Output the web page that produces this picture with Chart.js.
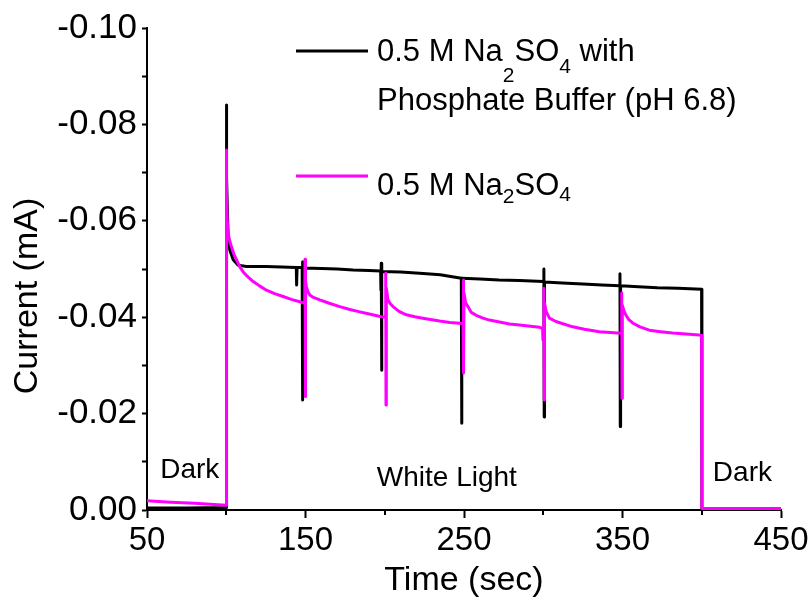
<!DOCTYPE html>
<html>
<head>
<meta charset="utf-8">
<script src="https://cdn.jsdelivr.net/npm/chart.js@4.4.0/dist/chart.umd.min.js"></script>
<style>
  html, body { margin: 0; padding: 0; background: #ffffff; }
  #wrap { width: 812px; height: 599px; }
</style>
</head>
<body>
<div id="wrap"><canvas id="c" width="812" height="599"></canvas></div>
<script>
const FONT = "'Liberation Sans', Arial, Helvetica, sans-serif";

// ---- tick labels ----
const xTickValues = [50, 150, 250, 350, 450];
const xMinorTicks = [100, 200, 300, 400];
const yTickValues = [-0.10, -0.08, -0.06, -0.04, -0.02, 0.00];

// ---- series names ----
const seriesNames = ['0.5 M Na2SO4 with Phosphate Buffer (pH 6.8)', '0.5 M Na2SO4'];
const seriesColors = ['#000000', '#ff00ff'];

// ---- annotation texts ----
const annotations = ['Dark', 'White Light', 'Dark'];

// ---- series 1: 0.5 M Na2SO4 with phosphate buffer (black) ----
const blackTime = [50, 75, 99.9, 100, 100.4, 100.8, 101.2, 102.3, 104.4, 107.5, 112.8, 125, 135,
  144.2, 144.4, 144.7, 147.9, 148.1, 148.3, 148.5, 160, 170, 180, 190,
  197.4, 197.6, 197.8, 198.0, 198.2, 210, 222, 235,
  248.3, 248.5, 248.7, 260, 272, 285,
  300.2, 300.4, 300.6, 300.8, 312, 325, 337,
  348.2, 348.4, 348.6, 348.8, 360, 372, 385, 399.9, 400.1, 425, 450];
const blackCurrent = [-0.0004, -0.0004, -0.0005, -0.0840, -0.0690, -0.0610, -0.0567, -0.0539, -0.0519, -0.0508, -0.0505, -0.0505, -0.0504,
  -0.0503, -0.0467, -0.0503, -0.0503, -0.0515, -0.0228, -0.0502, -0.0501, -0.0500, -0.0498, -0.0497,
  -0.0496, -0.0456, -0.0512, -0.0290, -0.0495, -0.0494, -0.0491, -0.0488,
  -0.0481, -0.0180, -0.0481, -0.0479, -0.0477, -0.0476,
  -0.0474, -0.0500, -0.0193, -0.0473, -0.0471, -0.0469, -0.0467,
  -0.0465, -0.0490, -0.0173, -0.0465, -0.0463, -0.0461, -0.0460, -0.0458, -0.0002, -0.0002, -0.0002];

// ---- series 2: 0.5 M Na2SO4 (magenta) ----
const magentaTime = [50, 65, 80, 99.9, 100, 100.3, 100.6, 101.2, 102.2, 103.3, 104.8, 106.5, 108.5, 110.7,
  113.5, 117, 121, 125.4, 130.5, 135.9, 141, 146.4,
  149.5, 149.7, 149.9, 150.1, 150.6, 151.5, 152.7, 155, 159, 165, 171.6, 178, 184.2, 191, 197.8,
  200.4, 200.6, 200.8, 201.0, 202, 203.5, 205.2, 209, 213.6, 219, 224, 234.6, 241,
  249.4, 249.6, 249.8, 250.0, 251, 252.5, 254.6, 257.7, 262, 266, 272.4, 278.7, 285, 297.6,
  299.6, 299.8, 300.0, 300.4, 300.6, 300.8, 301.8, 303.9, 308, 318.6, 326, 335.4, 347,
  349.3, 349.5, 349.7, 349.9, 351, 352.2, 354, 356.4, 361, 366.9, 374, 381.6, 390, 398.4, 399.9,
  400.1, 425, 450];
const magentaCurrent = [-0.0019, -0.0016, -0.0014, -0.0010, -0.0747, -0.0660, -0.0602, -0.0574, -0.0558, -0.0546, -0.0531, -0.0519, -0.0505, -0.0494,
  -0.0484, -0.0474, -0.0465, -0.0456, -0.0449, -0.0443, -0.0437, -0.0432,
  -0.0429, -0.0520, -0.0235, -0.0475, -0.0463, -0.0453, -0.0446, -0.0441, -0.0436, -0.0429, -0.0422, -0.0416, -0.0411, -0.0406, -0.0401,
  -0.0400, -0.0491, -0.0218, -0.0460, -0.0436, -0.0428, -0.0422, -0.0412, -0.0405, -0.0401, -0.0398, -0.0392, -0.0389,
  -0.0387, -0.0477, -0.0284, -0.0450, -0.0430, -0.0422, -0.0410, -0.0404, -0.0398, -0.0394, -0.0390, -0.0386, -0.0384, -0.0379,
  -0.0377, -0.0353, -0.0377, -0.0460, -0.0228, -0.0430, -0.0412, -0.0398, -0.0391, -0.0380, -0.0375, -0.0370, -0.0367,
  -0.0367, -0.0450, -0.0232, -0.0425, -0.0412, -0.0404, -0.0395, -0.0388, -0.0380, -0.0373, -0.0370, -0.0367, -0.0365, -0.0363, -0.0362,
  -0.0003, -0.0003, -0.0003];

const toPoints = (xs, ys) => xs.map((t, i) => ({ x: t, y: ys[i] }));

function drawRich(ctx, parts, x, baseline, mainSize, subSize) {
  let cx = x;
  parts.forEach(p => {
    ctx.font = (p.sub !== undefined ? subSize : mainSize) + 'px ' + FONT;
    ctx.fillText(p.t, cx, baseline + (p.sub || 0));
    cx += ctx.measureText(p.t).width;
  });
}

const decor = {
  id: 'decor',
  afterDraw(chart) {
    const { ctx } = chart;
    const xs = chart.scales.x, ys = chart.scales.y;
    ctx.save();
    ctx.fillStyle = '#000';
    ctx.strokeStyle = '#000';

    // minor x ticks (shorter)
    ctx.lineWidth = 2;
    xMinorTicks.forEach(v => {
      const px = Math.round(xs.getPixelForValue(v));
      ctx.beginPath();
      ctx.moveTo(px, ys.bottom);
      ctx.lineTo(px, ys.bottom + 5);
      ctx.stroke();
    });

    // y-axis title
    ctx.save();
    ctx.font = '34px ' + FONT;
    ctx.textAlign = 'center';
    ctx.textBaseline = 'middle';
    ctx.translate(28, 296);
    ctx.rotate(-Math.PI / 2);
    ctx.fillText('Current (mA)', 0, 0);
    ctx.restore();

    // annotations
    ctx.textAlign = 'left';
    ctx.textBaseline = 'alphabetic';
    ctx.font = '28px ' + FONT;
    ctx.fillText(annotations[0], xs.getPixelForValue(58.3), 478);
    ctx.fillText(annotations[1], xs.getPixelForValue(195), 486);
    ctx.fillText(annotations[2], xs.getPixelForValue(407), 481);

    // legend
    ctx.lineWidth = 3;
    ctx.strokeStyle = seriesColors[0];
    ctx.beginPath(); ctx.moveTo(296, 51); ctx.lineTo(368, 51); ctx.stroke();
    ctx.strokeStyle = seriesColors[1];
    ctx.beginPath(); ctx.moveTo(296, 176); ctx.lineTo(368, 176); ctx.stroke();

    ctx.fillStyle = '#000';
    drawRich(ctx, [{ t: '0.5 M Na' }, { t: '2', sub: 21 }, { t: 'SO' }, { t: '4', sub: 12 }, { t: ' with' }], 377, 61, 31, 21);
    drawRich(ctx, [{ t: 'Phosphate Buffer (pH 6.8)' }], 377, 110, 31, 21);
    drawRich(ctx, [{ t: '0.5 M Na' }, { t: '2', sub: 8 }, { t: 'SO' }, { t: '4', sub: 6 }], 377, 195, 31, 21);

    ctx.restore();
  }
};

const isMajorX = v => xTickValues.some(t => Math.abs(t - v) < 1e-6);
const yLabelFor = v => {
  const hit = yTickValues.find(t => Math.abs(t - v) < 1e-6);
  if (hit === undefined) return '';
  return Math.abs(hit) < 1e-9 ? '0.00' : hit.toFixed(2);
};

new Chart(document.getElementById('c'), {
  type: 'line',
  data: {
    datasets: [
      {
        label: seriesNames[1],
        data: toPoints(magentaTime, magentaCurrent),
        borderColor: seriesColors[1],
        backgroundColor: seriesColors[1],
        borderWidth: 3,
        pointRadius: 0,
        tension: 0,
        borderJoinStyle: 'round',
        fill: false,
        order: 0
      },
      {
        label: seriesNames[0],
        data: toPoints(blackTime, blackCurrent),
        borderColor: seriesColors[0],
        backgroundColor: seriesColors[0],
        borderWidth: 3,
        pointRadius: 0,
        tension: 0,
        borderJoinStyle: 'round',
        fill: false,
        order: 1
      }
    ]
  },
  options: {
    responsive: false,
    animation: false,
    devicePixelRatio: 1,
    layout: { padding: { left: 0, right: 31, top: 28, bottom: 0 } },
    plugins: { legend: { display: false }, tooltip: { enabled: false } },
    scales: {
      x: {
        type: 'linear',
        min: 50,
        max: 450,
        afterFit(s) { s.height = 89; },
        border: { display: true, color: '#000', width: 2 },
        grid: {
          drawOnChartArea: false,
          drawTicks: true,
          tickLength: 8,
          tickWidth: 2,
          tickColor: (c) => (c.tick && !isMajorX(c.tick.value)) ? 'rgba(0,0,0,0)' : '#000'
        },
        ticks: {
          stepSize: 50,
          autoSkip: false,
          maxRotation: 0,
          padding: 3,
          color: '#000',
          font: { family: FONT, size: 33 },
          callback: (v) => isMajorX(v) ? String(v) : ''
        },
        title: {
          display: true,
          text: 'Time (sec)',
          color: '#000',
          font: { family: FONT, size: 34, lineHeight: 1 },
          padding: { top: 0, bottom: 1 }
        }
      },
      y: {
        type: 'linear',
        reverse: true,
        min: -0.1,
        max: 0,
        afterFit(s) { s.width = 147; },
        border: { display: true, color: '#000', width: 2 },
        grid: {
          drawOnChartArea: false,
          drawTicks: true,
          tickLength: 5,
          tickWidth: 2,
          tickColor: '#000'
        },
        ticks: {
          stepSize: 0.01,
          autoSkip: false,
          padding: 5,
          color: '#000',
          font: { family: FONT, size: 35 },
          callback: (v) => yLabelFor(v)
        }
      }
    }
  },
  plugins: [decor]
});
</script>
</body>
</html>
